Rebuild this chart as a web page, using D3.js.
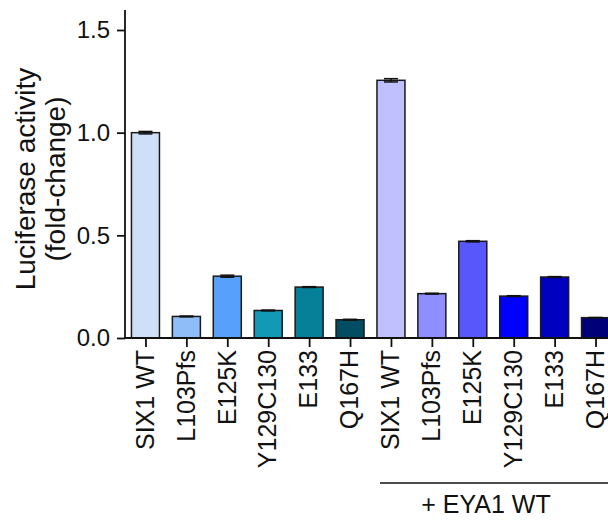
<!DOCTYPE html>
<html>
<head>
<meta charset="utf-8">
<script src="https://cdn.jsdelivr.net/npm/d3@7"></script>
<style>
  html, body { margin: 0; padding: 0; background: #fff; }
  svg { display: block; font-family: "Liberation Sans", Arial, Helvetica, sans-serif; }
</style>
</head>
<body>
<svg id="chart" width="608" height="520"></svg>
<script>
// Luciferase reporter activity for SIX1 variants, alone and with EYA1 WT
const categories = ["SIX1 WT", "L103Pfs", "E125K", "Y129C130", "E133", "Q167H",
                    "SIX1 WT", "L103Pfs", "E125K", "Y129C130", "E133", "Q167H"];
const means  = [1.000, 0.105, 0.301, 0.134, 0.248, 0.089,
                1.255, 0.216, 0.471, 0.204, 0.297, 0.099];
const errors = [0.006, 0.002, 0.005, 0.002, 0.002, 0.002,
                0.008, 0.002, 0.003, 0.002, 0.002, 0.001];
const colors = ["#cde0f7", "#8fbdf8", "#57a1fc", "#1299b6", "#067f99", "#034d62",
                "#c0c0ff", "#8e8eff", "#5757fc", "#0000ff", "#0000c0", "#000078"];
const yTicks = [0.0, 0.5, 1.0, 1.5];
const yTitle = ["Luciferase activity", "(fold-change)"];
const groupLabel = "+ EYA1 WT";
const groupStart = 6;

const svg = d3.select("#chart");
const plotLeft = 125, plotRight = 616, plotTop = 10, plotBottom = 338;

const idx = d3.range(categories.length);
const x = d3.scalePoint().domain(idx).range([plotLeft, plotRight]).padding(0.5);
const barW = 28;
const y = d3.scaleLinear().domain([0, 1.5]).range([plotBottom, 30]);

// bars
svg.append("g").selectAll("rect").data(idx).join("rect")
  .attr("x", i => x(i) - barW / 2)
  .attr("y", i => y(means[i]))
  .attr("width", barW)
  .attr("height", i => y(0) - y(means[i]))
  .attr("fill", i => colors[i])
  .attr("stroke", "#1a1a1a")
  .attr("stroke-width", 1.5);

// error bars (mean ± SEM)
const eb = svg.append("g").attr("stroke", "#111").attr("stroke-width", 1.5);
idx.forEach(i => {
  const y1 = y(means[i] + errors[i]), y0 = y(means[i] - errors[i]);
  eb.append("line").attr("x1", x(i)).attr("x2", x(i)).attr("y1", y1).attr("y2", y0);
  eb.append("line").attr("x1", x(i) - 7).attr("x2", x(i) + 7).attr("y1", y1).attr("y2", y1);
  eb.append("line").attr("x1", x(i) - 7).attr("x2", x(i) + 7).attr("y1", y0).attr("y2", y0);
});

// y axis
const yAxis = svg.append("g")
  .attr("transform", `translate(${plotLeft},0)`)
  .call(d3.axisLeft(y).tickValues(yTicks).tickFormat(d3.format(".1f")).tickSize(8).tickPadding(7));
yAxis.select(".domain").attr("d", `M0,${plotTop}V${plotBottom}`);
yAxis.selectAll("path, line").attr("stroke", "#111").attr("stroke-width", 1.8);
yAxis.attr("font-family", null).attr("font-size", null);
yAxis.selectAll("text").style("font-size", "24px").attr("fill", "#111");

// x axis
const xAxis = svg.append("g")
  .attr("transform", `translate(0,${plotBottom})`)
  .call(d3.axisBottom(x).tickFormat(i => categories[i]).tickSize(9).tickPadding(5));
xAxis.select(".domain").attr("d", `M${plotLeft},0H608`);
xAxis.selectAll("path, line").attr("stroke", "#111").attr("stroke-width", 1.8);
xAxis.attr("font-family", null).attr("font-size", null);
xAxis.selectAll("text")
  .style("font-size", "25px").attr("fill", "#111")
  .attr("transform", "rotate(-90)")
  .attr("text-anchor", "end")
  .attr("x", -12).attr("y", 0).attr("dy", "0.31em");

// y title
const t = svg.append("text")
  .attr("transform", "translate(0,179) rotate(-90)")
  .attr("text-anchor", "middle")
  .style("font-size", "28px")
  .attr("fill", "#111");
t.append("tspan").attr("x", 0).attr("y", 35).text(yTitle[0]);
t.append("tspan").attr("x", 0).attr("y", 65).text(yTitle[1]);

// group bracket
const gx0 = x(groupStart) - 11;
svg.append("line")
  .attr("x1", gx0).attr("x2", 608)
  .attr("y1", 483).attr("y2", 483)
  .attr("stroke", "#111").attr("stroke-width", 1.5);
svg.append("text")
  .attr("x", 486).attr("y", 513)
  .attr("text-anchor", "middle")
  .style("font-size", "25px")
  .attr("fill", "#111")
  .text(groupLabel);
</script>
</body>
</html>
